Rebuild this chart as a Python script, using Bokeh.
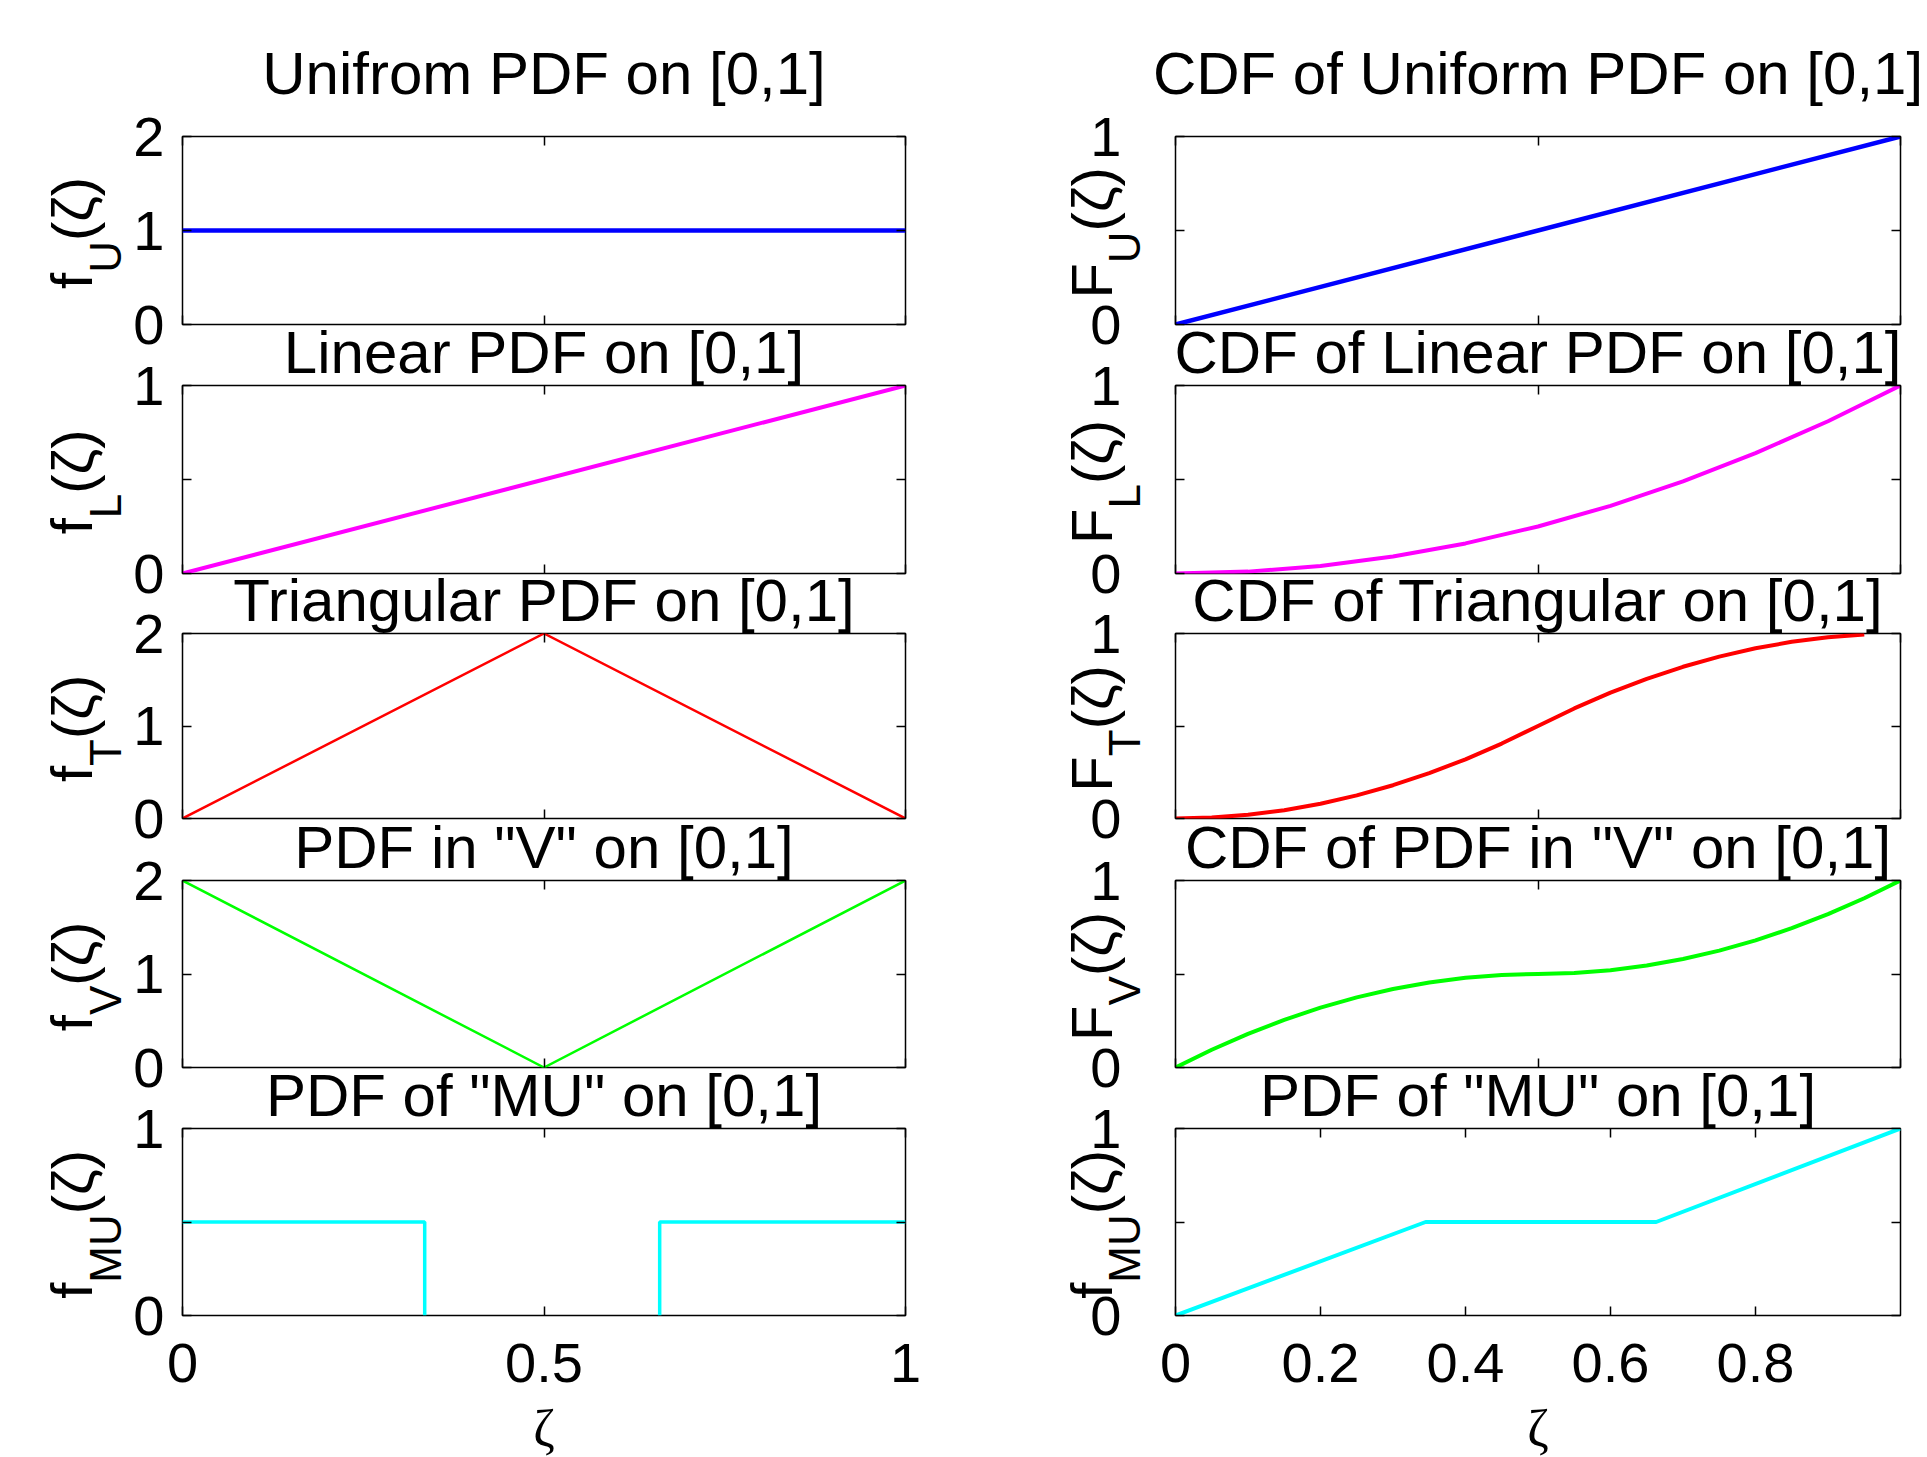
import math
from bokeh.plotting import figure
from bokeh.models import Range1d, FixedTicker, LinearAxis, Label, NumeralTickFormatter
from bokeh.layouts import row, column
from bokeh.embed import file_html
from bokeh.resources import INLINE

# ---------------- data ----------------
PDF_U_X = [0.0, 1.0]
PDF_U_Y = [1.0, 1.0]
PDF_L_X = [0.0, 1.0]
PDF_L_Y = [0.0, 1.0]
PDF_T_X = [0.0, 0.5, 1.0]
PDF_T_Y = [0.0, 2.0, 0.0]
PDF_V_X = [0.0, 0.5, 1.0]
PDF_V_Y = [2.0, 0.0, 2.0]
PDF_MU_XS = [[0.0, 0.335, 0.335], [0.66, 0.66, 1.0]]
PDF_MU_YS = [[0.5, 0.5, 0.0], [0.0, 0.5, 0.5]]

CDF_U_X = [0.0, 1.0]
CDF_U_Y = [0.0, 1.0]
CDF_L_X = [0.0, 0.1, 0.2, 0.3, 0.4, 0.5, 0.6, 0.7, 0.8, 0.9, 1.0]
CDF_L_Y = [0.0, 0.01, 0.04, 0.09, 0.16, 0.25, 0.36, 0.49, 0.64, 0.81, 1.0]
CDF_T_X = [0.0, 0.05, 0.1, 0.15, 0.2, 0.25, 0.3, 0.35, 0.4, 0.45, 0.5,
           0.55, 0.6, 0.65, 0.7, 0.75, 0.8, 0.85, 0.9, 0.95]
CDF_T_Y = [0.0, 0.005, 0.02, 0.045, 0.08, 0.125, 0.18, 0.245, 0.32, 0.405, 0.5,
           0.595, 0.68, 0.755, 0.82, 0.875, 0.92, 0.955, 0.98, 0.995]
CDF_V_X = [0.0, 0.05, 0.1, 0.15, 0.2, 0.25, 0.3, 0.35, 0.4, 0.45, 0.5,
           0.55, 0.6, 0.65, 0.7, 0.75, 0.8, 0.85, 0.9, 0.95, 1.0]
CDF_V_Y = [0.0, 0.095, 0.18, 0.255, 0.32, 0.375, 0.42, 0.455, 0.48, 0.495, 0.5,
           0.505, 0.52, 0.545, 0.58, 0.625, 0.68, 0.745, 0.82, 0.905, 1.0]
CDF_MU_X = [0.0, 0.345, 0.663, 1.0]
CDF_MU_Y = [0.0, 0.5, 0.5, 1.0]

LEFT_TITLES = ["Unifrom PDF on [0,1]", "Linear PDF on [0,1]", "Triangular PDF on [0,1]",
               'PDF in "V" on [0,1]', 'PDF of "MU" on [0,1]']
RIGHT_TITLES = ["CDF of Uniform PDF on [0,1]", "CDF of Linear PDF on [0,1]",
                "CDF of Triangular on [0,1]", 'CDF of PDF in "V" on [0,1]',
                'PDF of "MU" on [0,1]']
LEFT_MAIN = ["f", "f", "f", "f", "f"]
RIGHT_MAIN = ["F", "F", "F", "F", "f"]
SUBS = ["U", "L", "T", "V", "MU"]
Y_MAX = [2, 1, 2, 2, 1]
X_TICKS = [0, 0.5, 1]
X_TICKS_CDF_BOTTOM = [0, 0.2, 0.4, 0.6, 0.8]
X_LABEL = "ζ"

# ---------------- layout ----------------
FONT = "Liberation Sans"
PAGE_W, PAGE_H = 1927, 1457
FRAME_TOP = [136, 385, 633, 880, 1128]
FRAME_BOT = [324, 573, 818, 1067, 1315]
TOP_PAD = 80
BOT_PAD = 50
COLS = [(182, 723, 95), (175, 725, 27)]   # border-left, frame width, border-right
COL_X0 = [0, 1000]
MAIN_W = {"f": 0.278, "F": 0.611}
SUB_W = {"U": 0.722, "L": 0.556, "T": 0.611, "V": 0.667, "M": 0.833}
TITLE_SIZE, MAIN_SIZE, SUB_SIZE = 60, 58, 44
PAREN_W = 65
BASE_SHIFT = 0.3   # baseline correction, fraction of font size
# baseline offsets (left of frame) of: main letter, subscript, "(ζ)"
YLAB_OFF = [(94, 64, 93), (67, 38, 66)]


def make_panel(col, r, ymax, xticks, draw):
    bl, fw, br = COLS[col]
    ft, fb = FRAME_TOP[r], FRAME_BOT[r]
    fh = fb - ft
    top = ft if r == 0 else TOP_PAD
    bottom = BOT_PAD if r < 4 else PAGE_H - fb
    p = figure(width=bl + fw + br, height=top + fh + bottom,
               x_range=Range1d(0, 1), y_range=Range1d(0, ymax),
               output_backend="svg", toolbar_location=None, title=None,
               x_axis_type=None, y_axis_type=None,
               min_border_left=bl, min_border_right=br,
               min_border_top=top, min_border_bottom=bottom)
    p.border_fill_color = None
    p.background_fill_color = "white"
    p.outline_line_color = "black"
    p.outline_line_width = 1.5

    if ymax == 2:
        yt = FixedTicker(ticks=[0, 1, 2])
    else:
        yt = FixedTicker(ticks=[0, 1], minor_ticks=[0.5])
    xt = FixedTicker(ticks=xticks)

    def style(ax, show_labels, standoff):
        ax.axis_line_color = None
        ax.major_tick_in = 9
        ax.major_tick_out = 0
        ax.minor_tick_in = 9
        ax.minor_tick_out = 0
        ax.major_tick_line_color = "black"
        ax.minor_tick_line_color = "black"
        ax.major_tick_line_width = 1.5
        ax.minor_tick_line_width = 1.5
        ax.formatter = NumeralTickFormatter(format="0.[0]")
        ax.major_label_text_color = "black"
        ax.major_label_text_font = FONT
        if show_labels:
            ax.major_label_text_font_size = "56px"
            ax.major_label_standoff = standoff
        else:
            ax.major_label_text_font_size = "0px"
            ax.major_label_text_alpha = 0
            ax.major_label_standoff = 0

    ly = LinearAxis(ticker=yt)
    style(ly, True, 18 if col == 0 else 54)
    p.add_layout(ly, "left")
    ry = LinearAxis(ticker=yt)
    style(ry, False, 0)
    p.add_layout(ry, "right")
    bx = LinearAxis(ticker=xt)
    style(bx, r == 4, 28)
    p.add_layout(bx, "below")
    tx = LinearAxis(ticker=xt)
    style(tx, False, 0)
    p.add_layout(tx, "above")

    draw(p)
    return p


def line_drawer(xs, ys, color, w):
    def d(p):
        p.line(xs, ys, line_color=color, line_width=w)
    return d


def mu_pdf(p):
    p.multi_line(PDF_MU_XS, PDF_MU_YS, line_color="#00ffff", line_width=3.5)


left_draw = [line_drawer(PDF_U_X, PDF_U_Y, "#0000ff", 4.5),
             line_drawer(PDF_L_X, PDF_L_Y, "#ff00ff", 4),
             line_drawer(PDF_T_X, PDF_T_Y, "#ff0000", 2.5),
             line_drawer(PDF_V_X, PDF_V_Y, "#00ff00", 2.5),
             mu_pdf]
right_draw = [line_drawer(CDF_U_X, CDF_U_Y, "#0000ff", 4.5),
              line_drawer(CDF_L_X, CDF_L_Y, "#ff00ff", 4),
              line_drawer(CDF_T_X, CDF_T_Y, "#ff0000", 4),
              line_drawer(CDF_V_X, CDF_V_Y, "#00ff00", 4),
              line_drawer(CDF_MU_X, CDF_MU_Y, "#00ffff", 4)]

rows = []
for r in range(5):
    lp = make_panel(0, r, Y_MAX[r], X_TICKS, left_draw[r])
    rp = make_panel(1, r, 1, X_TICKS_CDF_BOTTOM if r == 4 else X_TICKS, right_draw[r])
    rw = row(lp, rp)
    if r > 0:
        prev_bottom = FRAME_BOT[r - 1] + BOT_PAD
        this_top = FRAME_TOP[r] - TOP_PAD
        rw.styles = {"margin-top": f"{this_top - prev_bottom}px"}
    rows.append(rw)

# ---------------- text layer (titles, y labels, x labels) ----------------
ov = figure(width=PAGE_W, height=PAGE_H, x_range=Range1d(0, PAGE_W), y_range=Range1d(PAGE_H, 0),
            output_backend="svg", toolbar_location=None, title=None,
            x_axis_type=None, y_axis_type=None,
            min_border_left=0, min_border_right=0, min_border_top=0, min_border_bottom=0)
ov.outline_line_color = None
ov.background_fill_color = None
ov.border_fill_color = None
ov.styles = {"margin-top": f"-{PAGE_H}px"}


def add_text(x, y, text, size, angle=0.0, align="center", baseline="alphabetic", font=FONT):
    ov.add_layout(Label(x=x, y=y, text=text, angle=angle, text_align=align,
                        text_baseline=baseline, text_font=font,
                        text_font_size=f"{size}px", text_color="black"))


for col, titles, mains in ((0, LEFT_TITLES, LEFT_MAIN), (1, RIGHT_TITLES, RIGHT_MAIN)):
    bl, fw, br = COLS[col]
    fl = COL_X0[col] + bl
    cx = fl + fw / 2
    om, osub, opar = YLAB_OFF[col]
    for r in range(5):
        ft, fb = FRAME_TOP[r], FRAME_BOT[r]
        add_text(cx, ft - (45 if r == 0 else 15) - BASE_SHIFT * TITLE_SIZE, titles[r], TITLE_SIZE)
        w_main = MAIN_W[mains[r]] * MAIN_SIZE
        w_sub = sum(SUB_W[c] for c in SUBS[r]) * SUB_SIZE
        total = w_main + w_sub + PAREN_W
        y0 = (ft + fb) / 2 + total / 2 + 2
        add_text(fl - om - BASE_SHIFT * MAIN_SIZE, y0, mains[r], MAIN_SIZE, math.pi / 2, "left")
        add_text(fl - osub - BASE_SHIFT * SUB_SIZE, y0 - w_main, SUBS[r], SUB_SIZE,
                 math.pi / 2, "left")
        add_text(fl - opar - BASE_SHIFT * MAIN_SIZE, y0 - w_main - w_sub, "(ζ)", MAIN_SIZE,
                 math.pi / 2, "left")
    add_text(cx, 1428, X_LABEL, 52, baseline="middle", font="Liberation Serif")

layout = column(*rows, ov)
open("out.html", "w").write(file_html(layout, INLINE))
